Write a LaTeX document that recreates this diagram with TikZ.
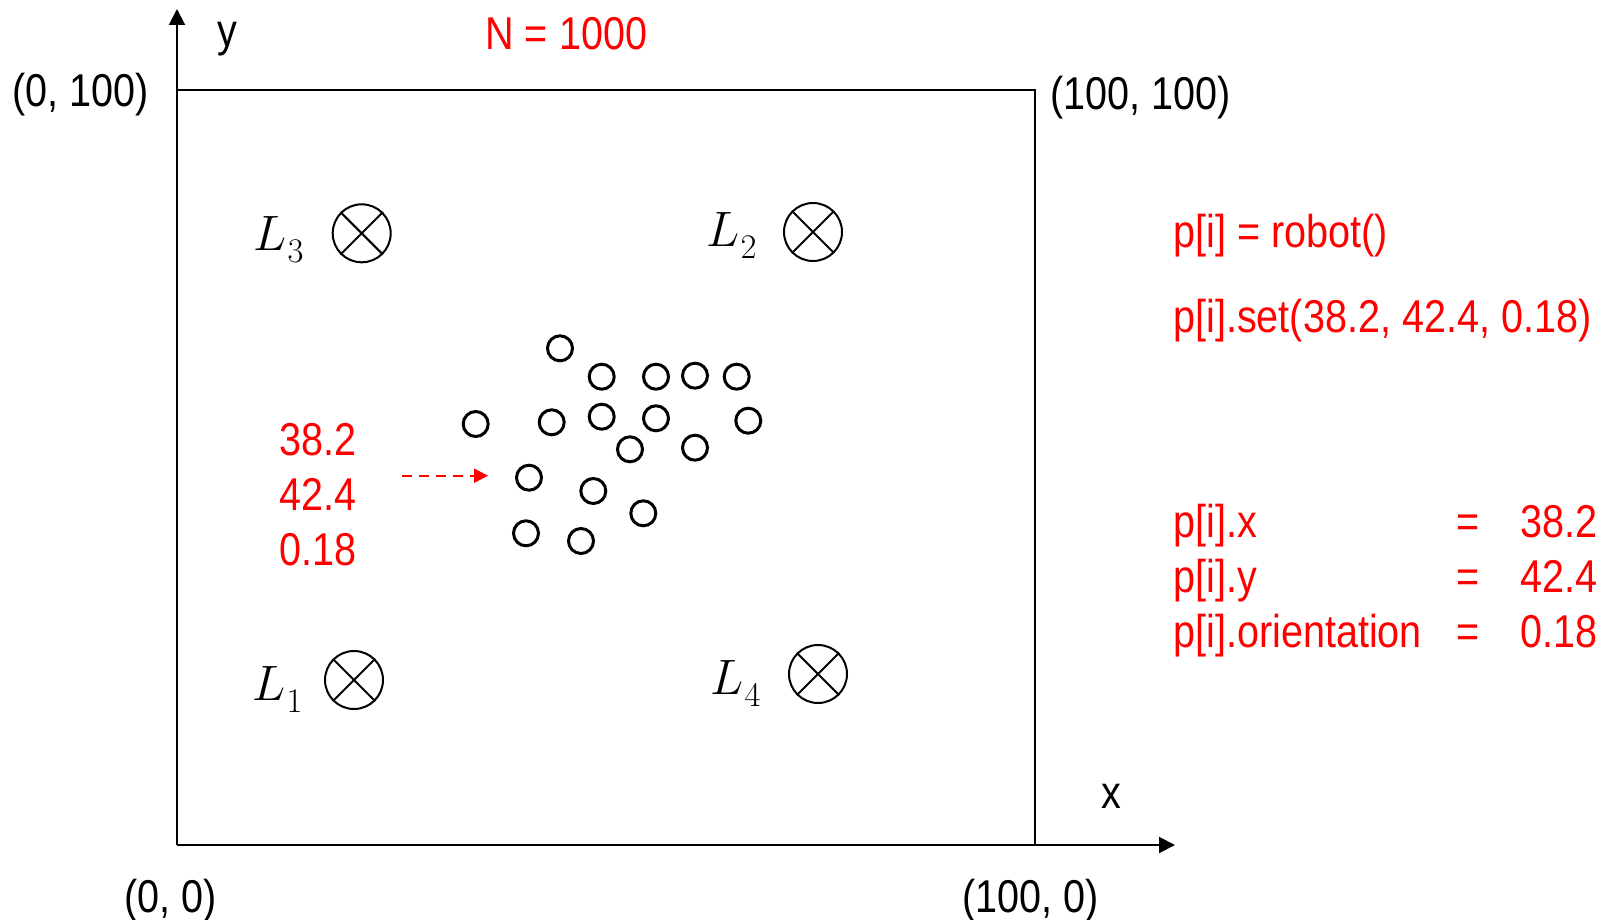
\documentclass[tikz,border=0pt]{standalone}
\usepackage{fontspec}
\setmainfont{Liberation Sans}[FakeStretch=0.86]
\usetikzlibrary{arrows.meta}
\definecolor{codered}{RGB}{255,0,0}
% landmark name: italic L with a large lowered index
\newcommand{\lmname}[1]{\(L\)\kern0.5pt\raisebox{-6pt}{\fontsize{18}{20}\selectfont\(#1\)}}
\begin{document}
\begin{tikzpicture}[x=0.5pt,y=-0.5pt,
  lbl/.style={font=\fontsize{23}{27}\selectfont, inner sep=0pt},
  code/.style={lbl, text=codered},
  particle/.style={circle, draw, line width=1.5pt, minimum size=12.5pt, inner sep=0pt},
  landmark/.style={circle, draw, line width=1pt, minimum size=29pt, inner sep=0pt},
  lmlabel/.style={font=\fontsize{24}{26}\selectfont, inner sep=0pt},
  axis/.style={line width=1pt, -{Triangle[length=8pt,width=8pt]}},
  border/.style={line width=1pt}]
\useasboundingbox (0,0) rectangle (1610,920);

% world boundary and axes
\coordinate (o) at (177,845);
\coordinate (ytip) at (177,9);
\coordinate (xtip) at (1175,845);
\draw[border] (177,90) -- (1035,90) -- (1035,845);
\draw[axis] (o) -- (ytip);
\draw[axis] (o) -- (xtip);

\node[lbl, anchor=base west] (ylab) at (217,47) {y};
\node[lbl, anchor=base west] (xlab) at (1101,808) {x};
\node[code, anchor=base west] (nlab) at (485,50) {N = 1000};

% corner coordinates
\node[lbl, anchor=base west] (c01) at (12,106) {(0, 100)};
\node[lbl, anchor=base west] (c11) at (1050,110) {(100, 100)};
\node[lbl, anchor=base west] (c00) at (124,912) {(0, 0)};
\node[lbl, anchor=base west] (c10) at (962,912) {(100, 0)};

% landmarks
\foreach \n/\x/\y/\lx/\ly/\k in {L3/361.7/233.3/253/250/3, L2/813/232/706/246/2,
                                 L1/354/680/252/700/1, L4/818/674/710/694/4}{
  \node[landmark] (\n) at (\x,\y) {};
  \draw[line width=1pt] (\n.45) -- (\n.225) (\n.135) -- (\n.315);
  \node[lmlabel, anchor=base west] (\n lab) at (\lx,\ly) {\lmname{\k}};
}

% particle cloud
\foreach \i/\x/\y in {1/560/348.3, 2/601.7/376.7, 3/656/376.7, 4/695/375.7, 5/736.7/376.7,
                      6/475.7/424, 7/551.7/422.3, 8/601.7/416.7, 9/656/418.3, 10/748.3/420.7,
                      11/630/449.3, 12/695/447.7, 13/529/477.7, 14/593.3/491, 15/643.3/513.3,
                      16/526/533.3, 17/581/541}{
  \node[particle] (p\i) at (\x,\y) {};
}

% state of one particle
\node[code, anchor=base west] (vx) at (279,455) {38.2};
\node[code, anchor=base west] (vy) at (279,510) {42.4};
\node[code, anchor=base west] (vo) at (279,565) {0.18};
\coordinate (astart) at (401.7,475.7);
\coordinate (aend) at (488,475.7);
\draw[codered, line width=1pt, dash pattern=on 5pt off 3.5pt,
      -{Triangle[length=7pt,width=7pt]}] (astart) -- (aend);

% code on the right
\node[code, anchor=base west] (init) at (1173,247) {p[i] = robot()};
\node[code, anchor=base west] (setc) at (1173,332) {p[i].set(38.2, 42.4, 0.18)};

\node[code, anchor=base west] (fx) at (1173,537) {p[i].x};
\node[code, anchor=base west] (fy) at (1173,592) {p[i].y};
\node[code, anchor=base west] (fo) at (1173,647) {p[i].orientation};
\node[code, anchor=base] (ex) at (1468,537) {=};
\node[code, anchor=base] (ey) at (1468,592) {=};
\node[code, anchor=base] (eo) at (1468,647) {=};
\node[code, anchor=base east] (nx) at (1598,537) {38.2};
\node[code, anchor=base east] (ny) at (1598,592) {42.4};
\node[code, anchor=base east] (no) at (1598,647) {0.18};
\end{tikzpicture}
\end{document}
